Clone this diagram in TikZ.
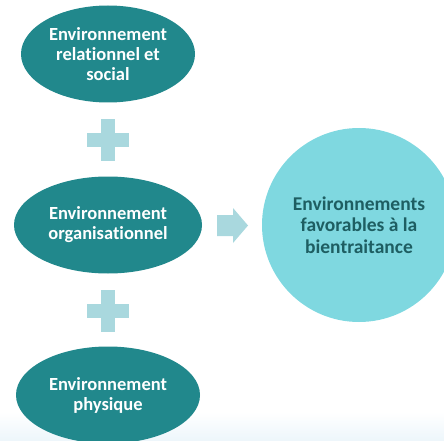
\documentclass[tikz,border=0pt]{standalone}
\usepackage{fontspec}
\setmainfont[Ligatures=CommonOff]{Carlito}
\usetikzlibrary{shapes.geometric}
\definecolor{tealdark}{HTML}{21888C}
\definecolor{tealpale}{HTML}{A9D8DE}
\definecolor{cyanlight}{HTML}{7FD8E0}
\definecolor{textdark}{HTML}{1E5E62}
\definecolor{bandblue}{HTML}{EDF6FB}
\begin{document}
\begin{tikzpicture}[x=1pt,y=-1pt]
    \clip (0,0) rectangle (444,441);
    \useasboundingbox (0,0) rectangle (444,441);
    %% Background band
    \shade[top color=white,bottom color=bandblue] (0,412) rectangle (444,441);
    %% Environments
    \node[ellipse,fill=tealdark,text=white,font=\bfseries\fontsize{18.5}{20}\selectfont,align=center,minimum width=174pt,minimum height=97pt,inner sep=0pt] (rel) at (108,54) {Environnement\\relationnel et\\social};
    \node[ellipse,fill=tealdark,text=white,font=\bfseries\fontsize{18.5}{20}\selectfont,align=center,minimum width=188pt,minimum height=97pt,inner sep=0pt] (org) at (108,225) {Environnement\\organisationnel};
    \node[ellipse,fill=tealdark,text=white,font=\bfseries\fontsize{18.5}{20}\selectfont,align=center,minimum width=184pt,minimum height=97pt,inner sep=0pt] (phy) at (108,395) {Environnement\\physique};
    %% Result
    \node[circle,fill=cyanlight,text=textdark,font=\bfseries\fontsize{19.5}{21.7}\selectfont,align=center,minimum size=194pt,inner sep=0pt] (fav) at (359,225) {Environnements\\favorables à la\\bientraitance};
    %% Plus signs
    \fill[tealpale] (101,119) rectangle (115,161);
    \fill[tealpale] (87,133) rectangle (129,147);
    \fill[tealpale] (101,290) rectangle (115,332);
    \fill[tealpale] (87,304) rectangle (129,318);
    %% Arrow
    \fill[tealpale] (217,215) -- (233,215) -- (233,208) -- (248,225.5) -- (233,243) -- (233,236) -- (217,236) -- cycle;
\end{tikzpicture}
\end{document}
